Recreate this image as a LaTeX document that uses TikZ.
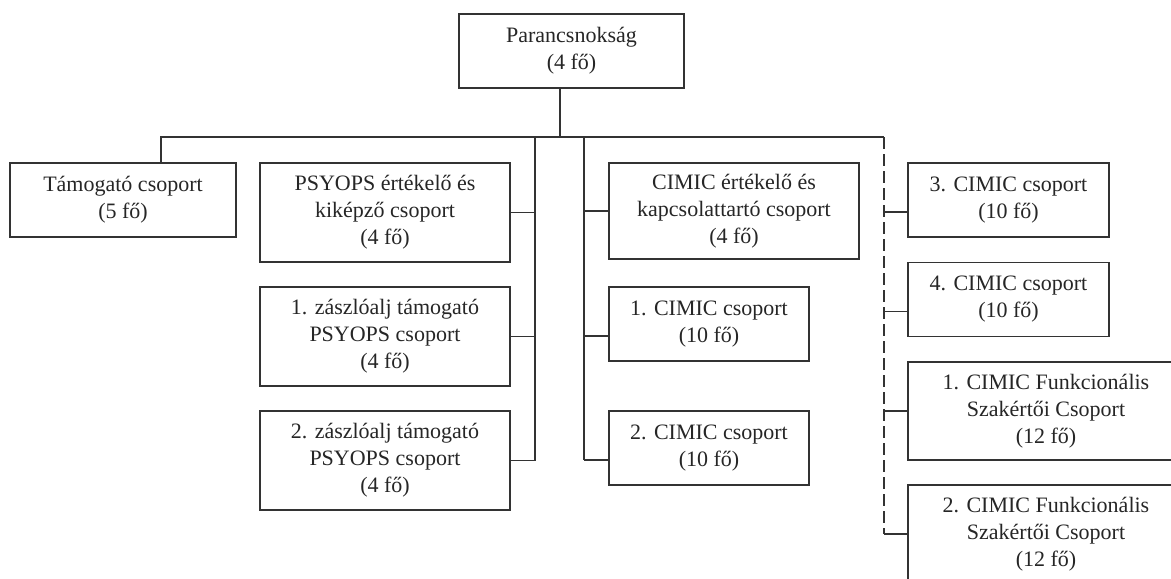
\documentclass[tikz,border=0pt]{standalone}
\usepackage{fontspec}
\setmainfont{Liberation Serif}
\tikzset{
	org chart/.is family,
	org chart/.cd,
	unit/.style = {
		draw = black!80,
		line width = 0.8pt,
		fill = white,
		align = center,
		inner sep = 0pt,
		text = black!85,
		font = \fontsize{11}{13.5}\selectfont,
	},
	short unit/.style = {
		org chart/unit,
		minimum height = 37pt,
	},
	tall unit/.style = {
		org chart/unit,
		minimum height = 49.5pt,
	},
	link/.style = {
		draw = black!80,
		line width = 0.8pt,
	},
	loose link/.style = {
		org chart/link,
		% the detached groups hang on a dashed line
		dash pattern = on 6pt off 2.5pt,
	},
}

\begin{document}
\begin{tikzpicture}[x = 0.5pt, y = -0.5pt]
	% the right column runs off the edge of the page
	\clip (0, 0) rectangle (1171, 578);
	\def\busy{137}
	\def\leftx{535}
	\def\rightx{584}
	\def\dashx{884}
	\node[org chart/short unit, minimum width = 112.5pt] (hq) at (571.5, 51) {Parancsnokság\\(4 fő)};
	\node[org chart/short unit, minimum width = 113pt] (support) at (123, 200) {Támogató csoport\\(5 fő)};
	% PSYOPS column
	\node[org chart/tall unit, minimum width = 125pt] (psyops-eval) at (385, 212.5) {PSYOPS értékelő és\\kiképző csoport\\(4 fő)};
	\node[org chart/tall unit, minimum width = 125pt] (batt-1) at (385, 336.5) {1. zászlóalj támogató\\PSYOPS csoport\\(4 fő)};
	\node[org chart/tall unit, minimum width = 125pt] (batt-2) at (385, 460.5) {2. zászlóalj támogató\\PSYOPS csoport\\(4 fő)};
	% CIMIC column
	\node[org chart/tall unit, minimum width = 125pt, minimum height = 48pt] (cimic-eval) at (734, 211) {CIMIC értékelő és\\kapcsolattartó csoport\\(4 fő)};
	\node[org chart/short unit, minimum width = 100pt] (cimic-1) at (709, 324) {1. CIMIC csoport\\(10 fő)};
	\node[org chart/short unit, minimum width = 100pt] (cimic-2) at (709, 448) {2. CIMIC csoport\\(10 fő)};
	% detached groups
	\node[org chart/short unit, minimum width = 100.5pt] (cimic-3) at (1008.5, 200) {3. CIMIC csoport\\(10 fő)};
	\node[org chart/short unit, minimum width = 100.5pt] (cimic-4) at (1008.5, 299.5) {4. CIMIC csoport\\(10 fő)};
	\node[org chart/tall unit, minimum width = 138pt, minimum height = 49pt] (expert-1) at (1046, 411) {1. CIMIC Funkcionális\\Szakértői Csoport\\(12 fő)};
	\node[org chart/tall unit, minimum width = 138pt, minimum height = 49pt] (expert-2) at (1046, 534) {2. CIMIC Funkcionális\\Szakértői Csoport\\(12 fő)};

	\coordinate (bus-west) at (161, \busy);
	\coordinate (bus-east) at (\dashx, \busy);
	\coordinate (trunk-psyops) at (\leftx, \busy);
	\coordinate (trunk-cimic) at (\rightx, \busy);
	\coordinate (hq-port) at ([xshift = -5.75pt]hq.south);
	% the two-line boxes take their link a little below the middle
	\foreach \unit in {cimic-1, cimic-2, cimic-3, cimic-4}{
		\coordinate (\unit-port) at ([yshift = -6pt]\unit.west);
	}
	\draw[org chart/link] (hq-port) -- (hq-port |- bus-west);
	\draw[org chart/link] (bus-west |- support.north) -- (bus-west) -- (bus-east);
	\draw[org chart/link] (trunk-psyops) -- (trunk-psyops |- batt-2.east);
	\foreach \unit in {psyops-eval, batt-1, batt-2}{
		\draw[org chart/link] (trunk-psyops |- \unit.east) -- (\unit.east);
	}
	\draw[org chart/link] (trunk-cimic) -- (trunk-cimic |- cimic-2-port);
	\draw[org chart/link] (trunk-cimic |- cimic-eval.west) -- (cimic-eval.west);
	\foreach \unit in {cimic-1, cimic-2}{
		\draw[org chart/link] (trunk-cimic |- \unit-port) -- (\unit-port);
	}
	\draw[org chart/loose link] (bus-east) -- (bus-east |- expert-2.west);
	\foreach \unit in {cimic-3, cimic-4}{
		\draw[org chart/link] (bus-east |- \unit-port) -- (\unit-port);
	}
	\foreach \unit in {expert-1, expert-2}{
		\draw[org chart/link] (bus-east |- \unit.west) -- (\unit.west);
	}
\end{tikzpicture}
\end{document}
